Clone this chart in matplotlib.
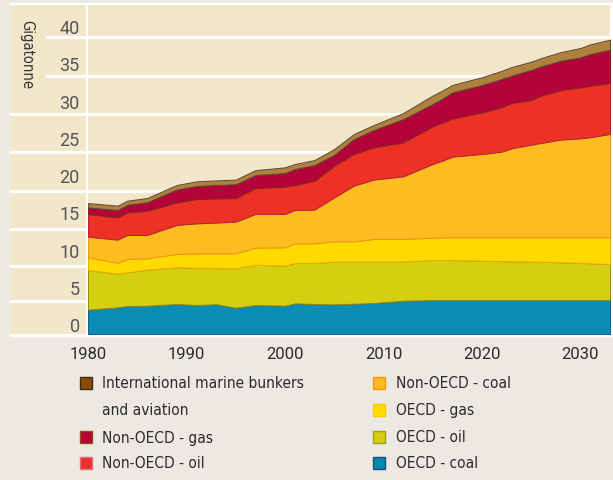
import numpy as np
import matplotlib
matplotlib.use("Agg")
import matplotlib.pyplot as plt
import matplotlib.font_manager as fm
from matplotlib.patches import Rectangle

# years (axis runs a little past 2030)
years = [1980, 1983, 1984, 1986, 1989, 1991, 1993, 1995, 1997, 2000, 2001, 2003,
         2005, 2007, 2009, 2012, 2015, 2016, 2017, 2020, 2022, 2023, 2025, 2026,
         2028, 2030, 2031, 2033]

# Gigatonne, stacked from the bottom
oecd_coal = [3.27, 3.58, 3.76, 3.80, 4.03, 3.89, 4.00, 3.53, 3.90, 3.80, 4.12, 4.03,
             3.98, 4.07, 4.16, 4.47, 4.56, 4.56, 4.56, 4.56, 4.56, 4.56, 4.56, 4.56,
             4.56, 4.56, 4.56, 4.56]
oecd_oil = [5.32, 4.52, 4.52, 4.84, 4.92, 5.01, 4.85, 5.28, 5.40, 5.37, 5.41, 5.50,
            5.73, 5.64, 5.55, 5.24, 5.37, 5.37, 5.37, 5.28, 5.24, 5.19, 5.15, 5.14,
            5.06, 4.99, 4.93, 4.84]
oecd_gas = [1.70, 1.47, 1.79, 1.52, 1.79, 1.93, 1.98, 2.02, 2.30, 2.46, 2.64, 2.64,
            2.73, 2.73, 3.04, 3.04, 3.00, 3.05, 3.05, 3.14, 3.18, 3.23, 3.27, 3.28,
            3.36, 3.43, 3.49, 3.58]
non_oecd_coal = [2.77, 3.09, 3.22, 3.13, 3.89, 4.02, 4.12, 4.25, 4.51, 4.48, 4.47, 4.52,
                 5.90, 7.47, 7.97, 8.41, 9.89, 10.29, 10.82, 11.18, 11.49, 11.94, 12.43, 12.66,
                 13.11, 13.28, 13.42, 13.87]
non_oecd_oil = [3.05, 3.00, 3.04, 3.26, 3.04, 3.27, 3.25, 3.18, 3.49, 3.67, 3.36, 3.89,
                4.26, 4.25, 4.34, 4.57, 5.05, 5.13, 5.13, 5.59, 5.96, 6.09, 6.00, 6.35,
                6.66, 6.85, 6.93, 6.84]
non_oecd_gas = [0.89, 0.98, 1.02, 1.13, 1.73, 1.75, 1.80, 1.84, 1.74, 1.83, 2.15, 2.10,
                1.45, 2.01, 2.32, 3.13, 3.00, 3.20, 3.51, 3.67, 3.80, 3.67, 4.05, 3.94,
                3.94, 4.03, 4.25, 4.48]
bunkers = [0.58, 0.59, 0.55, 0.58, 0.60, 0.62, 0.62, 0.62, 0.66, 0.76, 0.67, 0.67,
           0.78, 0.68, 0.67, 0.80, 1.15, 1.10, 1.00, 1.05, 1.10, 1.15, 1.10, 1.10,
           1.15, 1.25, 1.30, 1.34]

series = [oecd_coal, oecd_oil, oecd_gas, non_oecd_coal, non_oecd_oil, non_oecd_gas, bunkers]
fills = ["#0a8db4", "#d5cf12", "#ffda00", "#fdbd21", "#ee3125", "#b4033a", "#b0813d"]
edges = ["#1d5a86", "#8f8a10", "#f0a800", "#e8941a", "#b0203a", "#7a2a1a", "#5a4a3a"]

legend_left = ["International marine bunkers", "Non-OECD - gas", "Non-OECD - oil"]
legend_right = ["Non-OECD - coal", "OECD - gas", "OECD - oil", "OECD - coal"]

tick_years = [1980, 1990, 2000, 2010, 2020, 2030]
tick_vals = [0, 5, 10, 15, 20, 25, 30, 35, 40]

W, H = 613, 481
beige = "#f2e6cb"
grey = "#ece9e3"

# pick a narrow face for the legend if one is installed
fonts = fm.fontManager.ttflist
names = {f.name for f in fonts}
if "Liberation Sans Narrow" in names:
    narrow = dict(family="Liberation Sans Narrow")
elif any(f.name == "DejaVu Sans" and f.stretch == "condensed" for f in fonts):
    narrow = dict(family="DejaVu Sans", fontstretch="condensed")
else:
    narrow = dict(family="Roboto")


def box(x0, y0, x1, y1):
    # pixel box (top-left origin) -> figure fraction rect
    return [x0 / W, 1 - y1 / H, (x1 - x0) / W, (y1 - y0) / H]


fig = plt.figure(figsize=(W / 100, H / 100), dpi=100, facecolor=grey)
fig.add_artist(Rectangle((10 / W, 1 - 337 / H), 603 / W, 333 / H,
                         transform=fig.transFigure, color="white", zorder=-1))

ymax = 44.16
label_off = 1.34
grid_vals = [4.47, 9.17, 14.09, 19.23, 24.39, 29.53, 34.67, 39.83]

# left panel holding the y labels
axl = fig.add_axes(box(10, 6, 86, 335), facecolor=beige)
axl.set_xlim(0, 1)
axl.set_ylim(0, ymax)
axl.set_xticks([])
axl.set_yticks([])
for s in axl.spines.values():
    s.set_visible(False)
for g in grid_vals:
    axl.axhline(g, xmin=0.49 if g > 33 else 0, color="white", lw=2.2)
axl.text(0.22, 0.851, "Gigatonne", rotation=-90, ha="center", va="center",
         transform=axl.transAxes, fontsize=10.5, color="#333333", **narrow)

ax = fig.add_axes(box(88, 6, 610, 335), facecolor=beige)
ax.set_xlim(1980, 2033)
ax.set_ylim(0, ymax)
for g in grid_vals:
    ax.axhline(g, color="white", lw=2.2, zorder=0.5)

x = np.array(years)
base = np.zeros(len(years))
for vals, fc, ec in zip(series, fills, edges):
    top = base + np.array(vals)
    ax.fill_between(x, base, top, facecolor=fc, edgecolor=ec, lw=0.7, zorder=2)
    base = top

for s in ax.spines.values():
    s.set_visible(False)
ax.set_xticks(tick_years)
ax.set_xticklabels([str(t) for t in tick_years], fontsize=12, color="#2b2b2b",
                   family=["Roboto", "DejaVu Sans"])
ax.set_yticks([v + label_off for v in tick_vals])
ax.set_yticklabels([str(v) for v in tick_vals], fontsize=13, color="#555555",
                   family=["Roboto", "DejaVu Sans"])
ax.tick_params(axis="x", length=0, pad=9)
ax.tick_params(axis="y", length=0, pad=6)

# legend
leg_font = dict(fontsize=12, color="#2b2b2b", va="center", **narrow)
left_sw = [("#8b4b08", "#3a2a1a"), ("#b80035", "#8a5020"), ("#ee2d2d", "#e07080")]
right_sw = [("#ffbb22", "#f0961a"), ("#ffdd00", "#ffc800"), ("#d4cf14", "#a39e10"),
            ("#0088b0", "#1b4f80")]
left_rows = [384, 438, 464]
right_rows = [384, 411, 438, 464]
texts = []
for lab, (fc, ec), yy in zip(legend_left, left_sw, left_rows):
    fig.add_artist(Rectangle((80 / W, 1 - (yy + 6) / H), 12 / W, 12 / H,
                             transform=fig.transFigure, facecolor=fc, edgecolor=ec, lw=1))
    texts.append(fig.text(102 / W, 1 - yy / H, lab, **leg_font))
texts.append(fig.text(102 / W, 1 - 411 / H, "and aviation", **leg_font))
for lab, (fc, ec), yy in zip(legend_right, right_sw, right_rows):
    fig.add_artist(Rectangle((373 / W, 1 - (yy + 6) / H), 12 / W, 12 / H,
                             transform=fig.transFigure, facecolor=fc, edgecolor=ec, lw=1))
    texts.append(fig.text(396 / W, 1 - yy / H, lab, **leg_font))

# the first label is about 201 px wide in the reference; scale the legend text to match
fig.canvas.draw()
wid = texts[0].get_window_extent().width
size = min(13.5, 12 * 201 / wid)
for t in texts:
    t.set_fontsize(size)

fig.savefig("out.png", dpi=100, facecolor=grey)
